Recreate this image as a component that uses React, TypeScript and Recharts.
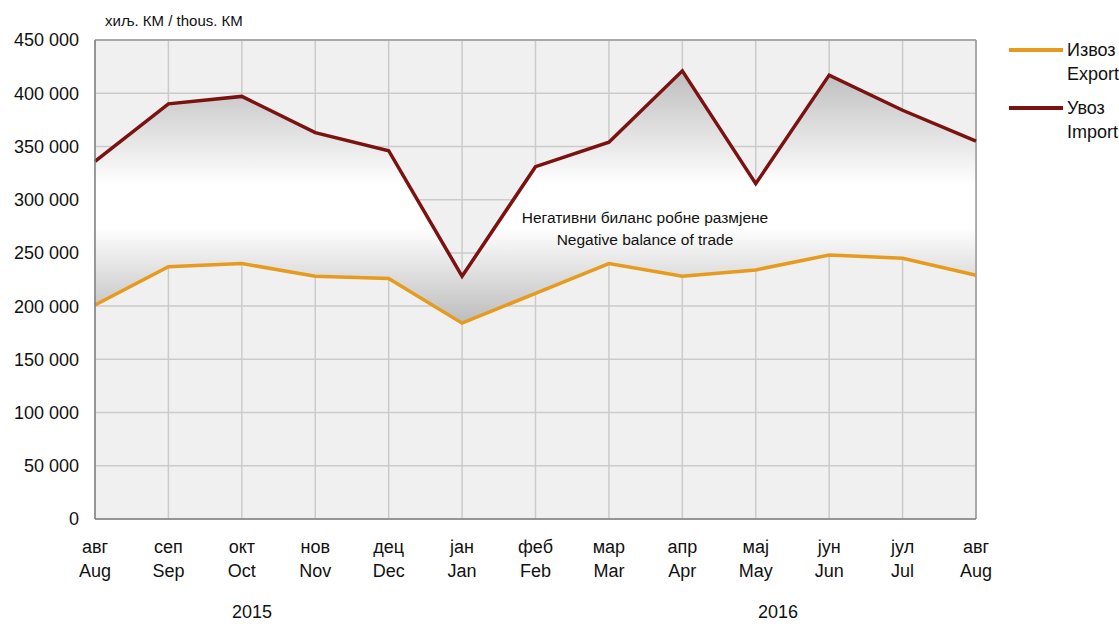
import React from "react";
import {
  ComposedChart,
  Area,
  Line,
  XAxis,
  YAxis,
  CartesianGrid,
  ReferenceLine,
} from "recharts";

const monthsSr = ["авг", "сеп", "окт", "нов", "дец", "јан", "феб", "мар", "апр", "мај", "јун", "јул", "авг"];
const monthsEn = ["Aug", "Sep", "Oct", "Nov", "Dec", "Jan", "Feb", "Mar", "Apr", "May", "Jun", "Jul", "Aug"];
const exportVals = [201000, 237000, 240000, 228000, 226000, 184000, 212000, 240000, 228000, 234000, 248000, 245000, 229000];
const importVals = [336000, 390000, 397000, 363000, 346000, 228000, 331000, 354000, 421000, 315000, 417000, 384000, 355000];
const yTicks = [0, 50000, 100000, 150000, 200000, 250000, 300000, 350000, 400000, 450000];
const years = ["2015", "2016"];

const FONT = "'Liberation Sans Narrow', 'Arial Narrow', 'Liberation Sans', Arial, sans-serif";
const EXPORT_COLOR = "#e69b1e";
const IMPORT_COLOR = "#7b1210";

const data = monthsSr.map((m, i) => ({
  key: `${i}`,
  sr: m,
  en: monthsEn[i],
  export: exportVals[i],
  import: importVals[i],
}));

const fmt = (v: number) =>
  v === 0 ? "0" : `${Math.floor(v / 1000)} ${String(v % 1000).padStart(3, "0")}`;

function MonthTick(props: any) {
  const { x, y, payload } = props;
  const d = data[Number(payload.value)];
  return (
    <g transform={`translate(${x},${y})`}>
      <text textAnchor="middle" fontFamily={FONT} fontSize={18} fill="#111">
        <tspan x={0} dy={26}>{d.sr}</tspan>
        <tspan x={0} dy={24}>{d.en}</tspan>
      </text>
    </g>
  );
}

const txt: React.CSSProperties = {
  position: "absolute",
  fontFamily: FONT,
  color: "#111",
  whiteSpace: "nowrap",
};

export default function App() {
  return (
    <div style={{ position: "absolute", left: 0, top: 0, width: 1119, height: 624, background: "#fff" }}>
      <ComposedChart
        width={1119}
        height={624}
        data={data}
        margin={{ top: 40, right: 143, bottom: 0, left: 0 }}
      >
        <defs>
          <linearGradient id="balGrad" x1="0" y1="0" x2="0" y2="1">
            <stop offset="0" stopColor="#bdbdbd" />
            <stop offset="0.45" stopColor="#ffffff" />
            <stop offset="0.62" stopColor="#ffffff" />
            <stop offset="1" stopColor="#bcbcbc" />
          </linearGradient>
        </defs>
        <CartesianGrid fill="#f0f0f0" stroke="#cbcbcb" strokeWidth={1.5} />
        <XAxis
          dataKey="key"
          height={105}
          tick={<MonthTick />}
          tickLine={false}
          axisLine={{ stroke: "#7f7f7f", strokeWidth: 1.5 }}
          interval={0}
        />
        <YAxis
          width={95}
          domain={[0, 450000]}
          ticks={yTicks}
          tickFormatter={fmt}
          tickLine={false}
          axisLine={{ stroke: "#7f7f7f", strokeWidth: 1.5 }}
          tick={{ fontFamily: FONT, fontSize: 18, fill: "#111", dx: -8 }}
          interval={0}
        />
        <ReferenceLine y={450000} stroke="#9a9a9a" strokeWidth={1.5} />
        <ReferenceLine x="12" stroke="#9a9a9a" strokeWidth={1.5} />
        <Area
          dataKey={(d: any) => [d.export, d.import]}
          stroke="none"
          fill="url(#balGrad)"
          fillOpacity={1}
          isAnimationActive={false}
          activeDot={false}
        />
        <Line
          dataKey="export"
          stroke={EXPORT_COLOR}
          strokeWidth={3.5}
          dot={false}
          isAnimationActive={false}
        />
        <Line
          dataKey="import"
          stroke={IMPORT_COLOR}
          strokeWidth={3.5}
          dot={false}
          isAnimationActive={false}
        />
      </ComposedChart>

      <div style={{ ...txt, left: 105, top: 12, fontSize: 15 }}>хиљ. КМ / thous. КМ</div>

      <div style={{ ...txt, left: 500, width: 290, top: 207, fontSize: 15.5, textAlign: "center", lineHeight: "22px" }}>
        Негативни биланс робне размјене
        <br />
        Negative balance of trade
      </div>

      <div style={{ ...txt, left: 232, top: 602, fontSize: 18 }}>{years[0]}</div>
      <div style={{ ...txt, left: 758, top: 602, fontSize: 18 }}>{years[1]}</div>

      <div style={{ position: "absolute", left: 1009, top: 48, width: 54, height: 4, background: EXPORT_COLOR }} />
      <div style={{ ...txt, left: 1067, top: 38, fontSize: 18, lineHeight: "24px" }}>
        Извоз
        <br />
        Export
      </div>
      <div style={{ position: "absolute", left: 1009, top: 106, width: 54, height: 4, background: IMPORT_COLOR }} />
      <div style={{ ...txt, left: 1067, top: 96, fontSize: 18, lineHeight: "24px" }}>
        Увоз
        <br />
        Import
      </div>
    </div>
  );
}
